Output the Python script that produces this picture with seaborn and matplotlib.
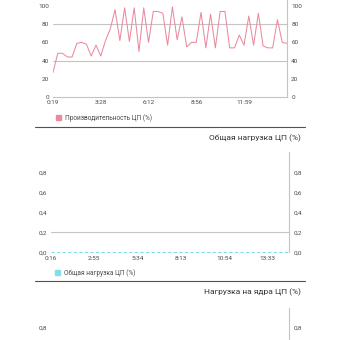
import matplotlib
matplotlib.use("Agg")
import matplotlib.pyplot as plt
from matplotlib.lines import Line2D
from matplotlib.patches import Patch
import numpy as np
import pandas as pd
import seaborn as sns

# ---- data -------------------------------------------------------------
perf_values = [27, 48, 48, 44, 44, 59, 60, 58, 45, 57,
               45, 62, 75, 96, 62, 98, 61, 98, 50, 98,
               60, 94, 94, 92, 57, 99, 63, 88, 55, 60,
               60, 93, 54, 91, 54, 94, 94, 54, 54, 68,
               57, 89, 57, 92, 56, 54, 54, 85, 60, 59]
perf_xticklabels = ["0:19", "3:28", "6:12", "8:56", "11:59"]
perf_yticks = [0, 20, 40, 60, 80, 100]
perf_label = "Производительность ЦП (%)"

load_values = [0.0] * 56
load_xticklabels = ["0:16", "2:55", "5:34", "8:13", "10:54", "13:33"]
load_yticks = [0.0, 0.2, 0.4, 0.6, 0.8]
load_yticklabels = ["0,0", "0,2", "0,4", "0,6", "0,8"]
load_label = "Общая нагрузка ЦП (%)"
load_title = "Общая нагрузка ЦП (%)"

cores_title = "Нагрузка на ядра ЦП (%)"
cores_yticks = [0.8]
cores_yticklabels = ["0,8"]

# ---- style ------------------------------------------------------------
sns.set_theme(style="white")
plt.rcParams["font.family"] = ["Roboto", "DejaVu Sans"]

W = H = 340
TICK_FS = 4.6
TITLE_FS = 6.0
LEG_FS = 4.7
TEXT_C = "#4a4a4a"
GRID_C = "#c4c4c4"
PINK = "#ea8a9e"
CYAN = "#80deea"

fig = plt.figure(figsize=(W / 100, H / 100), dpi=100)
fig.patch.set_facecolor("white")


def px_axes(x0, x1, ytop, ybot):
    return fig.add_axes([x0 / W, 1 - ybot / H, (x1 - x0) / W, (ybot - ytop) / H])


def style_axes(ax, gridlines):
    ax.set_facecolor("white")
    for side in ("left", "top"):
        ax.spines[side].set_visible(False)
    for side in ("right", "bottom"):
        ax.spines[side].set_color(GRID_C)
        ax.spines[side].set_linewidth(0.8)
    ax.tick_params(axis="both", length=0, labelsize=TICK_FS, colors=TEXT_C)
    ax.tick_params(axis="y", pad=3.0, labelleft=True, labelright=True)
    ax.tick_params(axis="x", pad=2.4)
    # horizontal guide lines only at selected levels
    ax.yaxis.remove_overlapping_locs = False
    ax.set_yticks(gridlines, minor=True)
    ax.tick_params(axis="y", which="minor", length=0, labelleft=False, labelright=False)
    ax.grid(False)
    ax.grid(True, which="minor", axis="y", color=GRID_C, linewidth=0.8)
    ax.set_xlabel("")
    ax.set_ylabel("")


# ---- chart 1: CPU performance ----------------------------------------
perf_df = pd.DataFrame({"i": np.arange(len(perf_values)), "v": perf_values})
ax1 = px_axes(53, 287, 97 - 120 * 0.91, 97)
sns.lineplot(data=perf_df, x="i", y="v", ax=ax1, color=PINK, linewidth=0.75)
ax1.set_xlim(0, len(perf_values) - 1)
ax1.set_ylim(0, 120)
ax1.set_yticks(perf_yticks)
ax1.set_yticklabels([str(t) for t in perf_yticks])
ax1.set_xticks(np.arange(len(perf_xticklabels)) * 10)
ax1.set_xticklabels(perf_xticklabels)
style_axes(ax1, [40, 80])

fig.legend(handles=[Patch(color=PINK)], labels=[perf_label], loc="center left",
           bbox_to_anchor=(56 / W, 1 - 118 / H), frameon=False,
           fontsize=LEG_FS, handlelength=0.8, handleheight=0.8,
           handletextpad=0.6, borderpad=0, borderaxespad=0, labelcolor=TEXT_C)

fig.add_artist(Line2D([35 / W, 305 / W], [1 - 127 / H] * 2, color="#505050", linewidth=0.8))

# ---- chart 2: total CPU load -----------------------------------------
fig.text(301 / W, 1 - 138 / H, load_title, ha="right", va="center",
         fontsize=TITLE_FS, color="#333333")

load_df = pd.DataFrame({"i": np.arange(len(load_values)), "v": load_values})
ax2 = px_axes(51, 289, 152.3, 252.3)
sns.lineplot(data=load_df, x="i", y="v", ax=ax2, color=CYAN, linewidth=0.8,
             linestyle=(0, (3, 2)), clip_on=False)
ax2.set_xlim(0, len(load_values) - 1)
ax2.set_ylim(0, 1.0)
ax2.set_yticks(load_yticks)
ax2.set_yticklabels(load_yticklabels)
ax2.set_xticks(np.arange(len(load_xticklabels)) * 10)
ax2.set_xticklabels(load_xticklabels)
style_axes(ax2, [0.2])
ax2.spines["bottom"].set_visible(False)

fig.legend(handles=[Patch(color=CYAN)], labels=[load_label], loc="center left",
           bbox_to_anchor=(54.5 / W, 1 - 273 / H), frameon=False,
           fontsize=LEG_FS, handlelength=0.8, handleheight=0.8,
           handletextpad=0.6, borderpad=0, borderaxespad=0, labelcolor=TEXT_C)

fig.add_artist(Line2D([35 / W, 305 / W], [1 - 281 / H] * 2, color="#505050", linewidth=0.8))

# ---- chart 3: per-core CPU load (top part) ---------------------------
fig.text(301 / W, 1 - 292 / H, cores_title, ha="right", va="center",
         fontsize=TITLE_FS, color="#333333")

ax3 = px_axes(51, 289, 307.5, 407.5)
ax3.set_xlim(0, 55)
ax3.set_ylim(0, 1.0)
ax3.set_yticks(cores_yticks)
ax3.set_yticklabels(cores_yticklabels)
ax3.set_xticks([])
style_axes(ax3, [0.2])

fig.savefig("out.png", dpi=100, facecolor="white")
